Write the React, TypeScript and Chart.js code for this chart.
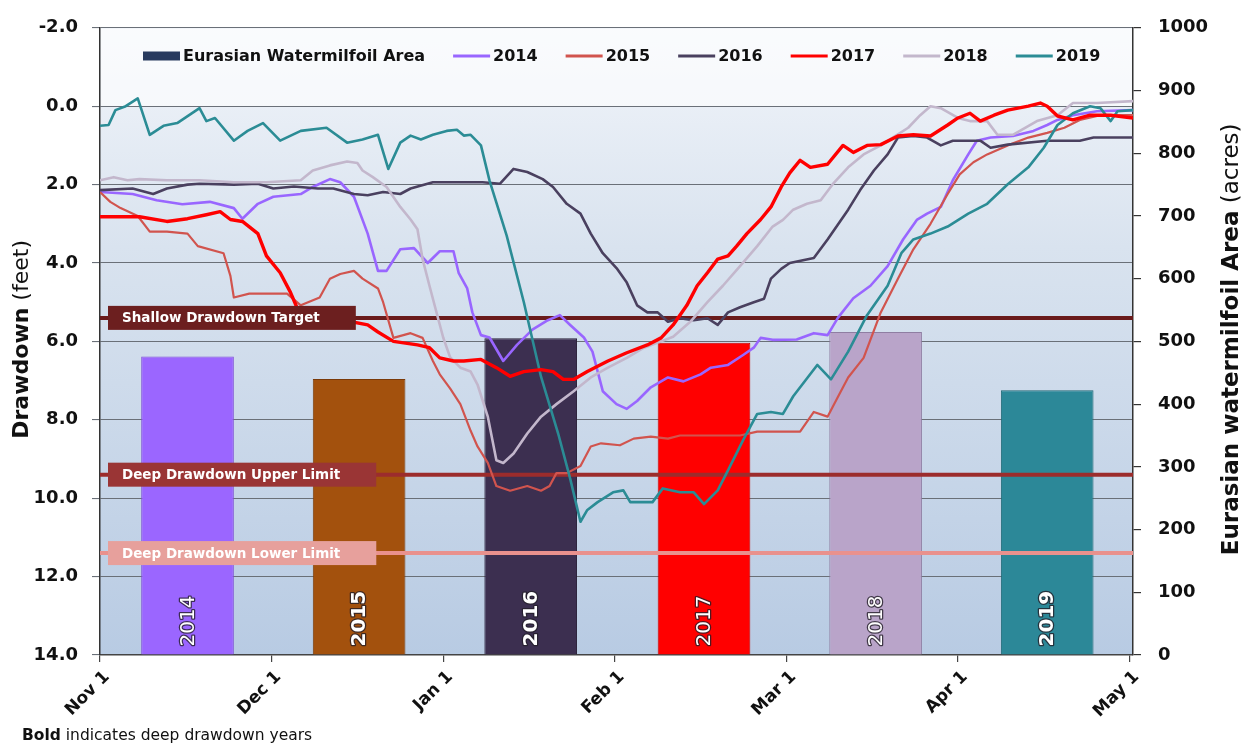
import React, { useEffect, useRef } from 'react';
import { Chart, registerables } from 'chart.js';

Chart.register(...registerables);

const FONT = "'DejaVu Sans', sans-serif";

// X axis: months after Nov 1 (0 = Nov 1, 6 = May 1)
const monthLabels = ['Nov 1', 'Dec 1', 'Jan 1', 'Feb 1', 'Mar 1', 'Apr 1', 'May 1'];
const drawdownTicks = [-2, 0, 2, 4, 6, 8, 10, 12, 14];

// Bars: Eurasian watermilfoil area (acres)
const years = ['2014', '2015', '2016', '2017', '2018', '2019'];
const deepYears = [false, true, true, false, false, true];
const barX = [0.51, 1.51, 2.51, 3.52, 4.52, 5.52];
const milfoilAcres = [476, 440, 505, 498, 515, 422];

// Reference levels (feet)
const limitValues = [5.4, 9.4, 11.4];
const limitLabels = ['Shallow Drawdown Target', 'Deep Drawdown Upper Limit', 'Deep Drawdown Lower Limit'];

// Drawdown series: [month offset from Nov 1, drawdown ft]
const drawdown2014 = [[0,2.19],[0.19,2.24],[0.33,2.4],[0.48,2.5],[0.64,2.44],[0.78,2.6],[0.83,2.87],[0.92,2.49],[1.01,2.31],[1.17,2.24],[1.24,2.06],[1.34,1.86],[1.40,1.94],[1.48,2.31],[1.56,3.25],[1.62,4.2],[1.67,4.2],[1.75,3.65],[1.83,3.62],[1.91,4.0],[1.98,3.7],[2.06,3.7],[2.09,4.25],[2.14,4.65],[2.17,5.26],[2.22,5.84],[2.27,5.9],[2.35,6.5],[2.43,6.09],[2.52,5.7],[2.61,5.46],[2.68,5.33],[2.74,5.58],[2.82,5.9],[2.87,6.26],[2.93,7.27],[3.01,7.6],[3.07,7.72],[3.13,7.52],[3.21,7.17],[3.31,6.92],[3.40,7.02],[3.50,6.84],[3.56,6.67],[3.66,6.6],[3.75,6.34],[3.81,6.16],[3.85,5.91],[3.92,5.96],[4.06,5.95],[4.16,5.79],[4.24,5.84],[4.30,5.4],[4.39,4.9],[4.49,4.58],[4.59,4.08],[4.68,3.4],[4.76,2.9],[4.82,2.74],[4.90,2.57],[4.97,1.89],[5.06,1.23],[5.11,0.88],[5.19,0.8],[5.32,0.76],[5.44,0.63],[5.52,0.48],[5.58,0.35],[5.67,0.23],[5.81,0.13],[6.02,0.1]];
const drawdown2015 = [[0,2.19],[0.06,2.44],[0.12,2.6],[0.22,2.8],[0.29,3.2],[0.39,3.2],[0.51,3.25],[0.57,3.57],[0.72,3.75],[0.76,4.33],[0.78,4.88],[0.87,4.78],[1.09,4.78],[1.17,5.08],[1.28,4.88],[1.34,4.4],[1.40,4.28],[1.48,4.2],[1.53,4.4],[1.62,4.65],[1.65,5.0],[1.71,5.91],[1.81,5.79],[1.88,5.91],[1.94,6.5],[1.98,6.84],[2.04,7.2],[2.10,7.6],[2.16,8.28],[2.20,8.68],[2.26,9.1],[2.31,9.69],[2.39,9.81],[2.49,9.69],[2.57,9.81],[2.62,9.69],[2.66,9.36],[2.72,9.36],[2.80,9.18],[2.86,8.68],[2.92,8.6],[3.03,8.65],[3.11,8.48],[3.21,8.43],[3.31,8.48],[3.38,8.4],[3.54,8.4],[3.73,8.4],[3.83,8.3],[4.08,8.3],[4.16,7.8],[4.24,7.92],[4.30,7.42],[4.36,6.92],[4.45,6.42],[4.55,5.26],[4.65,4.4],[4.74,3.65],[4.84,3.0],[4.94,2.24],[5.01,1.74],[5.09,1.43],[5.17,1.23],[5.29,1.0],[5.41,0.8],[5.52,0.68],[5.62,0.55],[5.71,0.35],[5.83,0.23],[6.02,0.23]];
const drawdown2016 = [[0,2.14],[0.19,2.1],[0.31,2.24],[0.39,2.1],[0.51,2.0],[0.58,1.98],[0.78,2.0],[0.92,1.98],[1.01,2.1],[1.13,2.05],[1.27,2.1],[1.36,2.1],[1.48,2.24],[1.56,2.27],[1.65,2.19],[1.75,2.24],[1.81,2.1],[1.94,1.94],[2.23,1.94],[2.33,1.98],[2.41,1.6],[2.49,1.68],[2.58,1.86],[2.64,2.06],[2.72,2.49],[2.80,2.74],[2.86,3.25],[2.93,3.75],[3.01,4.13],[3.07,4.5],[3.13,5.08],[3.19,5.26],[3.25,5.26],[3.31,5.5],[3.38,5.41],[3.46,5.46],[3.54,5.41],[3.60,5.58],[3.66,5.26],[3.73,5.13],[3.81,5.0],[3.87,4.91],[3.91,4.4],[3.97,4.15],[4.02,4.0],[4.16,3.87],[4.24,3.4],[4.36,2.64],[4.43,2.14],[4.51,1.64],[4.59,1.23],[4.65,0.8],[4.74,0.76],[4.82,0.8],[4.90,1.0],[4.97,0.88],[5.13,0.88],[5.19,1.06],[5.29,0.98],[5.52,0.88],[5.71,0.88],[5.79,0.8],[6.02,0.8]];
const drawdown2017 = [[0,2.82],[0.23,2.82],[0.39,2.94],[0.51,2.87],[0.62,2.77],[0.70,2.69],[0.76,2.89],[0.83,2.94],[0.92,3.25],[0.97,3.82],[1.05,4.25],[1.11,4.75],[1.15,5.16],[1.22,5.41],[1.36,5.41],[1.56,5.58],[1.62,5.76],[1.71,6.0],[1.85,6.09],[1.92,6.16],[1.98,6.42],[2.06,6.5],[2.12,6.5],[2.22,6.46],[2.31,6.67],[2.39,6.89],[2.47,6.77],[2.57,6.72],[2.64,6.77],[2.70,6.97],[2.76,6.97],[2.84,6.77],[2.96,6.5],[3.07,6.29],[3.19,6.09],[3.27,5.91],[3.34,5.58],[3.42,5.08],[3.48,4.58],[3.54,4.25],[3.60,3.9],[3.66,3.82],[3.71,3.57],[3.77,3.25],[3.85,2.89],[3.91,2.57],[3.97,2.06],[4.02,1.7],[4.08,1.38],[4.14,1.56],[4.24,1.48],[4.33,1.0],[4.39,1.18],[4.47,1.0],[4.55,0.98],[4.65,0.76],[4.74,0.73],[4.84,0.76],[4.94,0.48],[5.00,0.3],[5.07,0.18],[5.13,0.38],[5.21,0.23],[5.29,0.1],[5.41,0],[5.48,-0.08],[5.52,0],[5.58,0.25],[5.67,0.35],[5.77,0.23],[5.89,0.23],[6.02,0.3]];
const drawdown2018 = [[0,1.89],[0.08,1.81],[0.16,1.89],[0.23,1.86],[0.39,1.89],[0.58,1.89],[0.78,1.94],[0.97,1.94],[1.17,1.89],[1.24,1.64],[1.34,1.51],[1.44,1.41],[1.50,1.45],[1.53,1.64],[1.59,1.81],[1.67,2.06],[1.75,2.57],[1.81,2.89],[1.85,3.14],[1.88,3.9],[1.92,4.58],[1.97,5.41],[2.00,5.9],[2.04,6.4],[2.10,6.67],[2.16,6.77],[2.20,7.1],[2.26,7.92],[2.31,9.03],[2.35,9.1],[2.41,8.86],[2.49,8.35],[2.57,7.92],[2.66,7.6],[2.76,7.27],[2.86,6.92],[2.96,6.67],[3.07,6.42],[3.17,6.16],[3.27,6.0],[3.34,5.88],[3.44,5.5],[3.54,5.0],[3.63,4.58],[3.73,4.08],[3.83,3.57],[3.92,3.07],[3.98,2.9],[4.04,2.64],[4.12,2.49],[4.20,2.4],[4.27,1.99],[4.36,1.56],[4.45,1.23],[4.55,1.0],[4.62,0.8],[4.71,0.55],[4.78,0.23],[4.84,0.0],[4.90,0.05],[5.00,0.3],[5.07,0.38],[5.17,0.38],[5.23,0.73],[5.32,0.73],[5.46,0.38],[5.58,0.23],[5.67,-0.08],[5.81,-0.08],[6.02,-0.13]];
const drawdown2019 = [[0,0.5],[0.05,0.48],[0.09,0.1],[0.15,0],[0.22,-0.2],[0.29,0.73],[0.37,0.5],[0.45,0.43],[0.58,0.05],[0.62,0.38],[0.67,0.3],[0.78,0.88],[0.86,0.63],[0.95,0.43],[1.05,0.88],[1.17,0.63],[1.32,0.55],[1.44,0.93],[1.53,0.85],[1.62,0.73],[1.68,1.6],[1.75,0.93],[1.81,0.75],[1.87,0.85],[1.94,0.73],[2.02,0.63],[2.08,0.6],[2.12,0.75],[2.16,0.73],[2.22,1.0],[2.27,1.9],[2.37,3.3],[2.47,5.0],[2.57,6.9],[2.67,8.35],[2.74,9.5],[2.80,10.6],[2.84,10.3],[2.90,10.1],[2.99,9.85],[3.05,9.8],[3.09,10.1],[3.22,10.1],[3.28,9.75],[3.38,9.85],[3.46,9.85],[3.52,10.15],[3.60,9.8],[3.67,9.2],[3.75,8.5],[3.83,7.85],[3.91,7.8],[3.98,7.85],[4.04,7.4],[4.18,6.6],[4.26,6.97],[4.36,6.26],[4.47,5.33],[4.59,4.58],[4.67,3.75],[4.74,3.4],[4.84,3.25],[4.94,3.07],[5.06,2.74],[5.17,2.49],[5.29,1.99],[5.41,1.56],[5.50,1.06],[5.58,0.48],[5.67,0.18],[5.77,0],[5.83,0.05],[5.89,0.38],[5.93,0.13],[6.02,0.1]];

const X_MAX = 6.02;

const barColors = ['#9b66ff', '#a3510d', '#3c2f50', '#ff0000', '#b9a4c9', '#2c8898'];
const barBorders = ['#7e4fd6', '#7a3a08', '#2a2038', '#c80000', '#8f7ea2', '#1f6874'];
const limitColors = ['#6a1b1b', '#9c2c2c', '#e9918d'];
const limitBoxColors = ['#6c1f1f', '#9a3535', '#e7a09c'];

const lineStyles = [
  { data: drawdown2014, color: '#9966ff', width: 2.6, order: 1.6 },
  { data: drawdown2015, color: '#d1544e', width: 2.2, order: 1.5 },
  { data: drawdown2016, color: '#4a405f', width: 2.6, order: 1.4 },
  { data: drawdown2017, color: '#ff0000', width: 3.4, order: 1.1 },
  { data: drawdown2018, color: '#c3b7cc', width: 2.6, order: 1.3 },
  { data: drawdown2019, color: '#2b8c95', width: 2.6, order: 1.2 },
];

const toPts = (arr: number[][]) => arr.map(([x, y]) => ({ x, y }));

const decorPlugin = {
  id: 'decor',
  beforeDraw(chart: any) {
    const { ctx, chartArea } = chart;
    const { left, top, right, bottom } = chartArea;
    ctx.save();
    const g = ctx.createLinearGradient(0, top, 0, bottom);
    g.addColorStop(0, '#f2f5fa');
    g.addColorStop(0.35, '#d9e3ef');
    g.addColorStop(1, '#b8cbe3');
    ctx.fillStyle = g;
    ctx.fillRect(left, top, right - left, bottom - top);
    ctx.fillStyle = 'rgba(255,255,255,0.6)';
    ctx.fillRect(left + 1, top + 1, right - left - 2, chart.scales.y.getPixelForValue(0) - top - 1);
    ctx.restore();
  },
  afterDatasetsDraw(chart: any) {
    const { ctx, chartArea } = chart;
    const yScale = chart.scales.y;
    ctx.save();
    ctx.font = `bold 13.5px ${FONT}`;
    ctx.textBaseline = 'middle';
    ctx.textAlign = 'left';
    limitValues.forEach((v, i) => {
      const y = yScale.getPixelForValue(v);
      const tw = ctx.measureText(limitLabels[i]).width;
      const bx = chartArea.left + 8;
      ctx.fillStyle = limitBoxColors[i];
      ctx.fillRect(bx, y - 12, tw + 50, 24);
      ctx.fillStyle = '#ffffff';
      ctx.fillText(limitLabels[i], bx + 14, y + 1);
    });
    const meta = chart.getDatasetMeta(0);
    meta.data.forEach((bar: any, i: number) => {
      const p = bar.getProps(['x', 'base'], true);
      ctx.save();
      ctx.translate(p.x, p.base - 8);
      ctx.rotate(-Math.PI / 2);
      ctx.font = `${deepYears[i] ? 'bold ' : ''}20px ${FONT}`;
      ctx.textAlign = 'left';
      ctx.textBaseline = 'middle';
      ctx.lineJoin = 'round';
      ctx.lineWidth = 2.5;
      ctx.strokeStyle = 'rgba(35,30,40,0.8)';
      ctx.strokeText(years[i], 0, 1);
      ctx.fillStyle = '#ffffff';
      ctx.fillText(years[i], 0, 1);
      ctx.restore();
    });
    ctx.restore();
  },
  afterDraw(chart: any) {
    const { ctx, chartArea } = chart;
    ctx.save();
    const ly = 56;
    let lx = 143;
    ctx.font = `bold 16px ${FONT}`;
    ctx.textBaseline = 'middle';
    ctx.textAlign = 'left';
    const items: any[] = [{ label: chart.data.datasets[0].label, box: true, color: '#283a5e' }];
    chart.data.datasets.forEach((ds: any) => {
      if (ds.isYear) items.push({ label: ds.label, box: false, color: ds.borderColor });
    });
    items.forEach((it) => {
      if (it.box) {
        ctx.fillStyle = it.color;
        ctx.fillRect(lx, ly - 4.5, 37, 9);
      } else {
        ctx.strokeStyle = it.color;
        ctx.lineWidth = 3;
        ctx.beginPath();
        ctx.moveTo(lx, ly);
        ctx.lineTo(lx + 37, ly);
        ctx.stroke();
      }
      lx += 40;
      ctx.fillStyle = '#111';
      ctx.fillText(it.label, lx, ly + 1);
      lx += ctx.measureText(it.label).width + 28;
    });

    const drawMixed = (cx: number, cy: number, parts: [string, string][]) => {
      ctx.save();
      ctx.translate(cx, cy);
      ctx.rotate(-Math.PI / 2);
      ctx.textBaseline = 'middle';
      ctx.textAlign = 'left';
      let total = 0;
      const widths = parts.map(([t, f]) => {
        ctx.font = f;
        const w = ctx.measureText(t).width;
        total += w;
        return w;
      });
      let x = -total / 2;
      parts.forEach(([t, f], i) => {
        ctx.font = f;
        ctx.fillStyle = '#111';
        ctx.fillText(t, x, 0);
        x += widths[i];
      });
      ctx.restore();
    };
    const midY = (chartArea.top + chartArea.bottom) / 2 - 2;
    drawMixed(22, midY, [['Drawdown', `bold 22px ${FONT}`], [' (feet)', `22px ${FONT}`]]);
    drawMixed(1232, midY, [['Eurasian watermilfoil Area', `bold 23px ${FONT}`], [' (acres)', `23px ${FONT}`]]);

    ctx.textBaseline = 'alphabetic';
    ctx.fillStyle = '#111';
    ctx.font = `bold 15.5px ${FONT}`;
    ctx.fillText('Bold', 22, 740);
    const bw = ctx.measureText('Bold').width;
    ctx.font = `15.5px ${FONT}`;
    ctx.fillText(' indicates deep drawdown years', 22 + bw, 740);
    ctx.restore();
  },
};

export default function App() {
  const canvasRef = useRef<HTMLCanvasElement | null>(null);

  useEffect(() => {
    if (!canvasRef.current) return;
    Chart.defaults.font.family = FONT;

    const datasets: any[] = [];
    datasets.push({
      type: 'bar',
      label: 'Eurasian Watermilfoil Area',
      data: barX.map((x, i) => ({ x, y: milfoilAcres[i] })),
      backgroundColor: barColors,
      borderColor: barBorders,
      borderWidth: 1,
      barPercentage: 0.54,
      categoryPercentage: 1,
      xAxisID: 'x',
      yAxisID: 'y2',
      order: 10,
    });
    limitValues.forEach((v, i) => {
      datasets.push({
        type: 'line',
        label: limitLabels[i],
        data: [{ x: 0, y: v }, { x: X_MAX, y: v }],
        borderColor: limitColors[i],
        borderWidth: 4,
        pointRadius: 0,
        xAxisID: 'x',
        yAxisID: 'y',
        order: 5,
      });
    });
    lineStyles.forEach((s, i) => {
      datasets.push({
        type: 'line',
        label: years[i],
        isYear: true,
        data: toPts(s.data),
        borderColor: s.color,
        borderWidth: s.width,
        pointRadius: 0,
        tension: 0,
        borderJoinStyle: 'round',
        xAxisID: 'x',
        yAxisID: 'y',
        order: s.order,
      });
    });

    const chart = new Chart(canvasRef.current, {
      type: 'line',
      data: { datasets },
      options: {
        animation: false,
        responsive: true,
        maintainAspectRatio: false,
        layout: { padding: { top: 18, left: 0, right: 0, bottom: 0 } },
        plugins: { legend: { display: false }, tooltip: { enabled: false } },
        events: [],
        scales: {
          x: {
            type: 'linear',
            min: 0,
            max: X_MAX,
            offset: false,
            afterBuildTicks: (s: any) => {
              s.ticks = monthLabels.map((_, i) => ({ value: i }));
            },
            afterFit: (s: any) => {
              s.height = 92;
            },
            ticks: {
              autoSkip: false,
              minRotation: 45,
              maxRotation: 45,
              padding: 5,
              labelOffset: 7,
              color: '#111',
              font: { family: FONT, size: 17, weight: 'bold' },
              callback: (v: any) => monthLabels[Math.round(Number(v))],
            },
            grid: { offset: false, drawOnChartArea: false, drawTicks: true, tickLength: 7, color: '#444', lineWidth: 1.2 },
            border: { display: true, color: '#444', width: 1.5 },
          },
          y: {
            type: 'linear',
            position: 'left',
            reverse: true,
            min: -2,
            max: 14,
            afterBuildTicks: (s: any) => {
              s.ticks = drawdownTicks.map((v) => ({ value: v }));
            },
            afterFit: (s: any) => {
              s.width = 100;
            },
            ticks: {
              padding: 14,
              color: '#111',
              font: { family: FONT, size: 18, weight: 'bold' },
              callback: (v: any) => Number(v).toFixed(1),
            },
            grid: { color: '#6a7078', lineWidth: 1.1, tickLength: 8, drawTicks: true },
            border: { display: true, color: '#333', width: 1.5 },
          },
          y2: {
            type: 'linear',
            position: 'right',
            min: 0,
            max: 1000,
            afterFit: (s: any) => {
              s.width = 118;
            },
            ticks: {
              stepSize: 100,
              padding: 17,
              color: '#111',
              font: { family: FONT, size: 18, weight: 'bold' },
              callback: (v: any) => String(v),
            },
            grid: { drawOnChartArea: false, drawTicks: true, tickLength: 8, color: '#333', lineWidth: 1.2 },
            border: { display: true, color: '#333', width: 1.5 },
          },
        },
      } as any,
      plugins: [decorPlugin],
    });

    return () => chart.destroy();
  }, []);

  return (
    <div style={{ position: 'fixed', left: 0, top: 0, width: 1251, height: 747, background: '#fff' }}>
      <canvas ref={canvasRef} />
    </div>
  );
}
